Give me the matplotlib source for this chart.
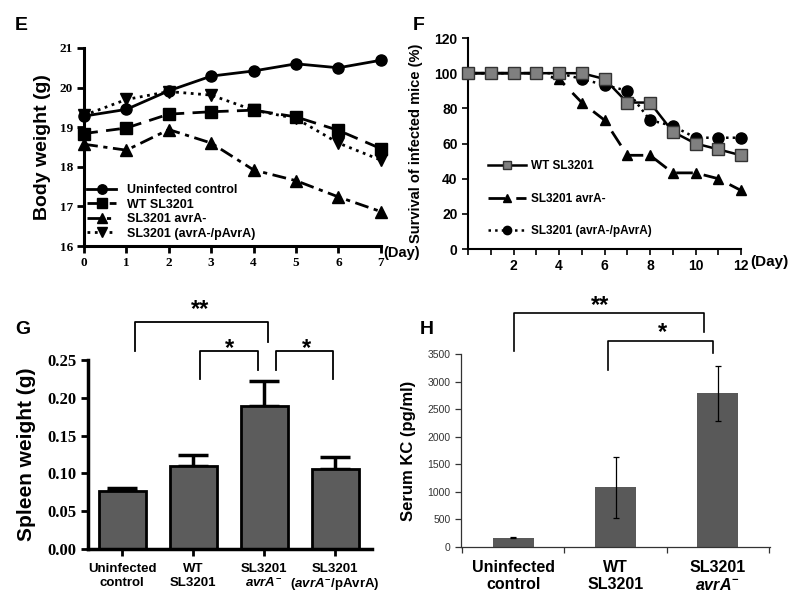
import matplotlib
matplotlib.use("Agg")
import matplotlib.pyplot as plt
from matplotlib.ticker import MultipleLocator, FormatStrFormatter, FixedLocator, NullFormatter

plt.rcParams['font.family'] = ['Liberation Sans', 'DejaVu Sans']
plt.rcParams['mathtext.fontset'] = 'custom'
plt.rcParams['mathtext.it'] = 'Liberation Sans:italic:bold'
plt.rcParams['mathtext.rm'] = 'Liberation Sans:bold'
plt.rcParams['mathtext.bf'] = 'Liberation Sans:bold'

# ---------- Panel E data ----------
e_days = [0, 1, 2, 3, 4, 5, 6, 7]
e_uninfected = [19.28, 19.45, 19.92, 20.29, 20.42, 20.60, 20.50, 20.69]
e_wt = [18.84, 18.98, 19.33, 19.39, 19.43, 19.26, 18.92, 18.46]
e_avra = [18.57, 18.42, 18.94, 18.60, 17.92, 17.65, 17.24, 16.87]
e_pavra = [19.30, 19.70, 19.90, 19.81, 19.43, 19.22, 18.60, 18.17]
e_labels = ["Uninfected control", "WT SL3201", "SL3201 avrA-", "SL3201 (avrA-/pAvrA)"]

# ---------- Panel F data ----------
f_days = [0, 1, 2, 3, 4, 5, 6, 7, 8, 9, 10, 11, 12]
f_wt = [100, 100, 100, 100, 100, 100, 96.7, 83.3, 83.3, 66.7, 60.0, 56.7, 53.3]
f_avra = [100, 100, 100, 100, 96.7, 83.3, 73.3, 53.3, 53.3, 43.3, 43.3, 40.0, 33.3]
f_pavra = [100, 100, 100, 100, 100, 96.7, 93.3, 90.0, 73.3, 70.0, 63.3, 63.3, 63.3]
f_labels = ["WT SL3201", "SL3201 avrA-", "SL3201 (avrA-/pAvrA)"]

# ---------- Panel G data ----------
g_cats = ["Uninfected\ncontrol", "WT\nSL3201", "SL3201\n$avrA^{-}$", "SL3201\n($avrA^{-}$/pAvrA)"]
g_vals = [0.077, 0.110, 0.189, 0.106]
g_errs = [0.0035, 0.0137, 0.033, 0.0155]

# ---------- Panel H data ----------
h_cats = ["Uninfected\ncontrol", "WT\nSL3201", "SL3201\n$avrA^{-}$"]
h_vals = [170, 1080, 2790]
h_errs = [12, 550, 500]

fig = plt.figure(figsize=(7.95, 5.96), dpi=100)

# ================= Panel E =================
axE = fig.add_axes([0.1057, 0.5872, 0.3733, 0.3323])
styles = [('-', 'o'), ((0, (5, 3)), 's'), ((0, (5, 2, 1.5, 2)), '^'), (':', 'v')]
for vals, lab, (ls, mk) in zip([e_uninfected, e_wt, e_avra, e_pavra], e_labels, styles):
    axE.plot(e_days, vals, linestyle=ls, marker=mk, color='black', lw=2, ms=8,
             label=lab, clip_on=False)
axE.set_xlim(0, 7)
axE.set_ylim(16, 21)
axE.xaxis.set_major_locator(MultipleLocator(1))
axE.yaxis.set_major_locator(MultipleLocator(1))
for s in ['top', 'right']:
    axE.spines[s].set_visible(False)
for s in ['left', 'bottom']:
    axE.spines[s].set_linewidth(2.2)
axE.tick_params(direction='out', width=2, length=5, labelsize=9.5, pad=3)
for t in axE.get_xticklabels() + axE.get_yticklabels():
    t.set_fontfamily('Liberation Serif')
    t.set_fontweight('bold')
axE.set_ylabel("Body weight (g)", fontsize=14, fontweight='bold', labelpad=6)
axE.text(7.05, 16, "(Day)", fontsize=10.5, fontweight='bold', va='top', ha='left',
         transform=axE.transData)
legE = axE.legend(loc='lower left', bbox_to_anchor=(-0.01, 0.0), frameon=False,
                  prop={'weight': 'bold', 'size': 9}, handlelength=2.3, handletextpad=0.9,
                  labelspacing=0.2, borderaxespad=0.1, markerscale=0.85)
fig.text(0.019, 0.972, "E", fontsize=14, fontweight='bold', va='top')

# ================= Panel F =================
axF = fig.add_axes([0.5887, 0.5822, 0.3434, 0.354])
axF.plot(f_days, f_wt, '-', marker='s', color='black', mfc='#808080', mec='#333333',
         lw=1.8, ms=8, label=f_labels[0], clip_on=False, zorder=3)
axF.plot(f_days, f_avra, linestyle=(0, (6, 4)), marker='^', color='black', lw=2, ms=7,
         label=f_labels[1], clip_on=False, zorder=2)
axF.plot(f_days, f_pavra, ':', marker='o', color='black', lw=1.8, ms=8,
         label=f_labels[2], clip_on=False, zorder=2)
axF.set_xlim(0, 12)
axF.set_ylim(0, 120)
axF.xaxis.set_major_locator(FixedLocator([2, 4, 6, 8, 10, 12]))
axF.xaxis.set_minor_locator(MultipleLocator(1))
axF.yaxis.set_major_locator(MultipleLocator(20))
for s in ['top', 'right']:
    axF.spines[s].set_visible(False)
for s in ['left', 'bottom']:
    axF.spines[s].set_linewidth(1.5)
axF.tick_params(which='both', direction='out', width=1.2, length=4)
axF.tick_params(labelsize=10)
for t in axF.get_xticklabels() + axF.get_yticklabels():
    t.set_fontweight('bold')
axF.set_ylabel("Survival of infected mice (%)", fontsize=10.5, fontweight='bold', labelpad=8)
axF.text(12.42, -3.2, "(Day)", fontsize=11, fontweight='bold', va='top', ha='left')
legF = axF.legend(loc='lower left', bbox_to_anchor=(0.035, 0.005), frameon=False,
                  prop={'weight': 'bold', 'size': 8.5}, handlelength=3.2, handletextpad=0.4,
                  labelspacing=1.75, markerscale=0.75)
fig.text(0.519, 0.972, "F", fontsize=14, fontweight='bold', va='top')

# ================= Panel G =================
axG = fig.add_axes([0.1107, 0.0789, 0.3573, 0.3171])
xg = list(range(len(g_vals)))
axG.bar(xg, g_vals, width=0.66, color='#5c5c5c', edgecolor='black', linewidth=2, zorder=2)
axG.errorbar(xg, g_vals, yerr=[[0] * len(g_errs), g_errs], fmt='none', ecolor='black',
             elinewidth=2.5, capsize=11, capthick=2.5, zorder=1)
axG.set_xlim(-0.48, 3.52)
axG.set_ylim(0, 0.25)
axG.yaxis.set_major_locator(MultipleLocator(0.05))
axG.yaxis.set_major_formatter(FormatStrFormatter('%.2f'))
axG.set_xticks(xg)
axG.set_xticklabels(g_cats)
for s in ['top', 'right']:
    axG.spines[s].set_visible(False)
for s in ['left', 'bottom']:
    axG.spines[s].set_linewidth(2.5)
axG.tick_params(direction='out', width=2, length=5)
axG.tick_params(axis='y', labelsize=12)
axG.tick_params(axis='x', labelsize=9.5, pad=5)
for t in axG.get_yticklabels():
    t.set_fontfamily('Liberation Serif')
    t.set_fontweight('bold')
for t in axG.get_xticklabels():
    t.set_fontweight('bold')
axG.set_ylabel("Spleen weight (g)", fontsize=15, fontweight='bold', labelpad=8)

def bracket(ax, x1, x2, ytop, yl, yr, lw):
    ax.plot([x1, x1, x2, x2], [yl, ytop, ytop, yr], color='black', lw=lw, clip_on=False)

bracket(axG, 0.18, 2.06, 0.300, 0.262, 0.274, 1.3)
bracket(axG, 1.10, 1.92, 0.262, 0.225, 0.237, 1.3)
bracket(axG, 2.17, 2.97, 0.262, 0.237, 0.225, 1.3)
axG.text(1.10, 0.301, "**", fontsize=17, fontweight='bold', ha='center', va='bottom')
axG.text(1.51, 0.250, "*", fontsize=17, fontweight='bold', ha='center', va='bottom')
axG.text(2.60, 0.250, "*", fontsize=17, fontweight='bold', ha='center', va='bottom')
fig.text(0.019, 0.462, "G", fontsize=14, fontweight='bold', va='top')

# ================= Panel H =================
axH = fig.add_axes([0.580, 0.0822, 0.3886, 0.3238])
xh = list(range(len(h_vals)))
axH.bar(xh, h_vals, width=0.4, color='#595959', edgecolor='none', zorder=2)
axH.errorbar(xh, h_vals, yerr=h_errs, fmt='none', ecolor='black', elinewidth=0.9,
             capsize=2.5, capthick=0.9, zorder=3)
axH.set_xlim(-0.51, 2.51)
axH.set_ylim(0, 3500)
axH.yaxis.set_major_locator(MultipleLocator(500))
axH.xaxis.set_major_locator(FixedLocator([-0.5, 0.5, 1.5, 2.5]))
axH.xaxis.set_major_formatter(NullFormatter())
axH.xaxis.set_minor_locator(FixedLocator(xh))
axH.set_xticklabels(h_cats, minor=True)
for s in ['top', 'right']:
    axH.spines[s].set_visible(False)
for s in ['left', 'bottom']:
    axH.spines[s].set_linewidth(0.9)
    axH.spines[s].set_color('#333333')
axH.tick_params(which='major', direction='out', width=0.9, length=4, color='#333333')
axH.tick_params(axis='y', labelsize=7.5, labelcolor='#333333')
axH.tick_params(axis='x', which='minor', length=0, labelsize=11.5, pad=9)
for t in axH.get_xticklabels(minor=True):
    t.set_fontweight('bold')
axH.set_ylabel("Serum KC (pg/ml)", fontsize=12, fontweight='bold', labelpad=8)
bracket(axH, 0.01, 1.86, 4243, 3554, 3899, 1.2)
bracket(axH, 0.93, 1.95, 3736, 3210, 3518, 1.2)
axH.text(0.85, 4180, "**", fontsize=17, fontweight='bold', ha='center', va='bottom')
axH.text(1.46, 3680, "*", fontsize=17, fontweight='bold', ha='center', va='bottom')
fig.text(0.528, 0.462, "H", fontsize=14, fontweight='bold', va='top')

fig.savefig("out.png", dpi=100)
